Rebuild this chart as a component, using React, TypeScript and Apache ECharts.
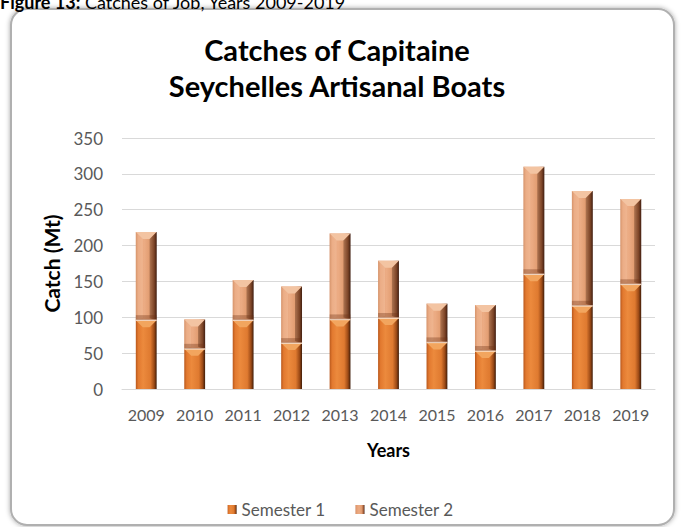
import React, { useEffect, useRef } from "react";
import * as echarts from "echarts";

const years = ["2009", "2010", "2011", "2012", "2013", "2014", "2015", "2016", "2017", "2018", "2019"];
const semester1 = [96, 56, 96, 64, 97, 99, 65, 53, 160, 116, 146];
const semester2 = [123, 41, 56, 79, 120, 80, 54, 64, 150, 160, 119];
const yTicks = [0, 50, 100, 150, 200, 250, 300, 350];

const FONT = "Lato, 'Open Sans', sans-serif";

const grad = (stops: [number, string][]) =>
  new echarts.graphic.LinearGradient(0, 0, 1, 0, stops.map(([offset, color]) => ({ offset, color })));

const s1Color = () =>
  grad([
    [0, "#b9581c"],
    [0.12, "#e2792f"],
    [0.35, "#ec8a3d"],
    [0.7, "#df7a30"],
    [0.88, "#9c4a16"],
    [1, "#3f1c08"],
  ]);
const s2Color = () =>
  grad([
    [0, "#c97d50"],
    [0.12, "#e59e74"],
    [0.4, "#ecac84"],
    [0.7, "#e09a6e"],
    [0.88, "#a05c38"],
    [1, "#452216"],
  ]);

export default function App() {
  const ref = useRef<HTMLDivElement>(null);
  useEffect(() => {
    if (!ref.current) return;
    const chart = echarts.init(ref.current, undefined, { renderer: "svg" });
    const BAR_RATIO = 0.43;
    const bevelData = years.map((y, i) => [i, semester1[i], semester1[i] + semester2[i]]);
    chart.setOption({
      animation: false,
      backgroundColor: "#ffffff",
      textStyle: { fontFamily: FONT },
      graphic: [
        {
          type: "rect",
          shape: { x: 11, y: 9, width: 663, height: 516, r: 16 },
          style: {
            fill: "#ffffff",
            stroke: "#b0b0b0",
            lineWidth: 2,
            shadowBlur: 5,
            shadowColor: "rgba(0,0,0,0.35)",
          },
          z: -10,
          silent: true,
        },
        {
          type: "text",
          x: 0,
          y: 11,
          style: {
            text: "{b|Figure 13:} Catches of Job, Years 2009-2019",
            fontFamily: FONT,
            fontSize: 18,
            fill: "#000",
            verticalAlign: "bottom",
            rich: { b: { fontWeight: "bold", fontSize: 18, fontFamily: FONT } },
          },
        },
      ],
      title: {
        text: "Catches of Capitaine\nSeychelles Artisanal Boats",
        left: 332,
        textAlign: "center",
        top: 26,
        textStyle: { fontFamily: FONT, fontSize: 29, fontWeight: "bold", color: "#000", lineHeight: 36 },
      },
      legend: {
        bottom: 4,
        left: "center",
        itemWidth: 9,
        itemHeight: 9,
        itemGap: 30,
        icon: "rect",
        textStyle: { fontFamily: FONT, fontSize: 17, color: "#595959" },
        data: ["Semester 1", "Semester 2"],
      },
      grid: { left: 122, right: 26, top: 138, bottom: 138 },
      xAxis: {
        type: "category",
        data: years,
        name: "Years",
        nameLocation: "middle",
        nameGap: 52,
        nameTextStyle: { fontFamily: FONT, fontSize: 18, fontWeight: "bold", color: "#000" },
        axisLine: { lineStyle: { color: "#d9d9d9", width: 1 } },
        axisTick: { show: false },
        axisLabel: { fontFamily: FONT, fontSize: 16, color: "#595959", margin: 17, interval: 0 },
      },
      yAxis: {
        type: "value",
        min: yTicks[0],
        max: yTicks[yTicks.length - 1],
        interval: 50,
        name: "Catch (Mt)",
        nameLocation: "middle",
        nameGap: 60,
        nameTextStyle: { fontFamily: FONT, fontSize: 21, fontWeight: "bold", color: "#000" },
        axisLabel: { fontFamily: FONT, fontSize: 17, color: "#595959", margin: 19 },
        splitLine: { lineStyle: { color: "#d9d9d9", width: 1 } },
        axisLine: { show: false },
        axisTick: { show: false },
      },
      series: [
        {
          name: "Semester 1",
          type: "bar",
          stack: "total",
          barWidth: "43%",
          data: semester1,
          itemStyle: { color: s1Color() },
        },
        {
          name: "Semester 2",
          type: "bar",
          stack: "total",
          barWidth: "43%",
          data: semester2,
          itemStyle: { color: s2Color() },
        },
        {
          type: "custom",
          silent: true,
          z: 5,
          data: bevelData,
          renderItem: (params: any, api: any) => {
            const idx = api.value(0);
            const v1 = api.value(1);
            const vt = api.value(2);
            const bw = api.size([1, 0])[0] * BAR_RATIO;
            const p1 = api.coord([idx, v1]);
            const pt = api.coord([idx, vt]);
            const x0 = p1[0] - bw / 2;
            const x1 = p1[0] + bw / 2;
            const depth = 7;
            const tri = (y: number, fill: string) => ({
              type: "polygon",
              shape: { points: [[x0, y], [x1, y], [x1 - depth, y + depth], [x0 + depth, y + depth]] },
              style: { fill },
            });
            return {
              type: "group",
              children: [
                tri(pt[1], "#f3c4a2"),
                tri(p1[1], "#f2a55e"),
                {
                  type: "polygon",
                  shape: { points: [[x0, pt[1]], [x0 + depth, pt[1] + depth], [x0 + depth, p1[1] - 2], [x0, p1[1]]] },
                  style: { fill: "rgba(255,220,190,0.25)" },
                },
                {
                  type: "polygon",
                  shape: { points: [[x1, pt[1]], [x1 - depth, pt[1] + depth], [x1 - depth, p1[1] - 2], [x1, p1[1]]] },
                  style: { fill: "rgba(60,25,10,0.35)" },
                },
                {
                  type: "line",
                  shape: { x1: x0, y1: p1[1], x2: x1, y2: p1[1] },
                  style: { stroke: "#fbe3cf", lineWidth: 1.5 },
                },
                {
                  type: "rect",
                  shape: { x: x0, y: p1[1] - 5, width: bw, height: 5 },
                  style: { fill: "rgba(110,50,20,0.35)" },
                },
              ],
            };
          },
        },
      ],
    });
    return () => chart.dispose();
  }, []);
  return <div ref={ref} style={{ position: "fixed", left: 0, top: 0, width: 681, height: 527 }} />;
}
